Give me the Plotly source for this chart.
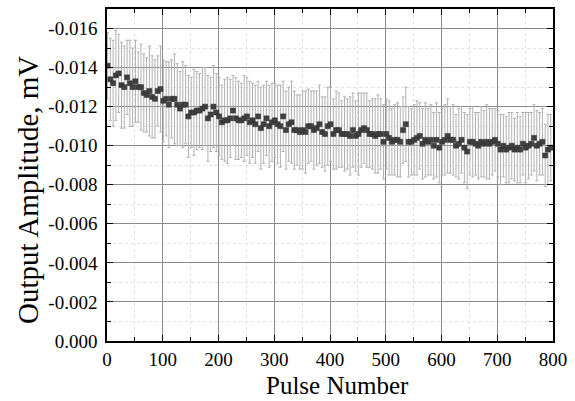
import plotly.graph_objects as go

pulse = [1 + 5 * i for i in range(160)]

amp_000 = [-0.0141, -0.0134, -0.0132, -0.0136, -0.0137, -0.0131, -0.0130, -0.0135, -0.0132, -0.0130,
           -0.0133, -0.0130, -0.0130, -0.0127, -0.0126, -0.0128, -0.0125, -0.0124, -0.0128, -0.0129]
amp_100 = [-0.0123, -0.0124, -0.0121, -0.0124, -0.0124, -0.0121, -0.0119, -0.0121, -0.0121, -0.0115,
           -0.0117, -0.0117, -0.0118, -0.0118, -0.0119, -0.0120, -0.0114, -0.0116, -0.0120, -0.0117]
amp_200 = [-0.0115, -0.0112, -0.0113, -0.0113, -0.0114, -0.0118, -0.0114, -0.0113, -0.0113, -0.0114,
           -0.0115, -0.0112, -0.0113, -0.0111, -0.0115, -0.0109, -0.0111, -0.0114, -0.0110, -0.0112]
amp_300 = [-0.0113, -0.0111, -0.0110, -0.0115, -0.0108, -0.0111, -0.0112, -0.0108, -0.0108, -0.0107,
           -0.0108, -0.0107, -0.0110, -0.0110, -0.0108, -0.0109, -0.0111, -0.0107, -0.0106, -0.0110]
amp_400 = [-0.0111, -0.0106, -0.0108, -0.0108, -0.0106, -0.0106, -0.0106, -0.0105, -0.0108, -0.0105,
           -0.0106, -0.0108, -0.0109, -0.0108, -0.0106, -0.0106, -0.0105, -0.0106, -0.0106, -0.0102]
amp_500 = [-0.0106, -0.0104, -0.0102, -0.0103, -0.0103, -0.0102, -0.0108, -0.0111, -0.0102, -0.0102,
           -0.0103, -0.0104, -0.0105, -0.0101, -0.0103, -0.0102, -0.0103, -0.0100, -0.0103, -0.0099]
amp_600 = [-0.0102, -0.0103, -0.0105, -0.0103, -0.0103, -0.0100, -0.0101, -0.0103, -0.0099, -0.0097,
           -0.0102, -0.0102, -0.0101, -0.0100, -0.0102, -0.0101, -0.0102, -0.0101, -0.0102, -0.0103]
amp_700 = [-0.0101, -0.0098, -0.0100, -0.0098, -0.0099, -0.0100, -0.0098, -0.0099, -0.0098, -0.0101,
           -0.0099, -0.0100, -0.0101, -0.0104, -0.0100, -0.0101, -0.0102, -0.0095, -0.0098, -0.0099]

err_000 = [0.0017, 0.0021, 0.0022, 0.0023, 0.0020, 0.0022, 0.0021, 0.0019, 0.0022, 0.0020,
           0.0021, 0.0018, 0.0022, 0.0020, 0.0019, 0.0023, 0.0021, 0.0020, 0.0018, 0.0022]
err_100 = [0.0021, 0.0019, 0.0022, 0.0020, 0.0023, 0.0021, 0.0019, 0.0022, 0.0020, 0.0021,
           0.0018, 0.0022, 0.0020, 0.0019, 0.0021, 0.0020, 0.0022, 0.0019, 0.0021, 0.0020]
err_200 = [0.0020, 0.0019, 0.0021, 0.0022, 0.0020, 0.0018, 0.0021, 0.0020, 0.0019, 0.0022,
           0.0020, 0.0021, 0.0019, 0.0020, 0.0018, 0.0021, 0.0020, 0.0019, 0.0021, 0.0020]
err_300 = [0.0019, 0.0020, 0.0021, 0.0018, 0.0020, 0.0019, 0.0021, 0.0020, 0.0018, 0.0019,
           0.0020, 0.0021, 0.0019, 0.0018, 0.0020, 0.0019, 0.0020, 0.0018, 0.0019, 0.0020]
err_400 = [0.0019, 0.0018, 0.0020, 0.0019, 0.0017, 0.0019, 0.0018, 0.0020, 0.0019, 0.0018,
           0.0021, 0.0019, 0.0018, 0.0019, 0.0017, 0.0018, 0.0019, 0.0020, 0.0018, 0.0019]
err_500 = [0.0018, 0.0019, 0.0017, 0.0018, 0.0019, 0.0018, 0.0017, 0.0019, 0.0018, 0.0017,
           0.0018, 0.0019, 0.0017, 0.0018, 0.0019, 0.0017, 0.0018, 0.0017, 0.0019, 0.0018]
err_600 = [0.0017, 0.0018, 0.0019, 0.0017, 0.0018, 0.0016, 0.0018, 0.0017, 0.0018, 0.0019,
           0.0017, 0.0018, 0.0016, 0.0017, 0.0018, 0.0017, 0.0019, 0.0018, 0.0017, 0.0016]
err_700 = [0.0017, 0.0018, 0.0016, 0.0017, 0.0018, 0.0017, 0.0016, 0.0018, 0.0017, 0.0016,
           0.0018, 0.0017, 0.0016, 0.0017, 0.0018, 0.0016, 0.0017, 0.0016, 0.0018, 0.0017]

amplitude = amp_000 + amp_100 + amp_200 + amp_300 + amp_400 + amp_500 + amp_600 + amp_700
error = err_000 + err_100 + err_200 + err_300 + err_400 + err_500 + err_600 + err_700

x_ticks = [0, 100, 200, 300, 400, 500, 600, 700, 800]
x_ticktext = ["0", "100", "200", "300", "400", "500", "600", "700", "800"]
y_ticks = [0.0, -0.002, -0.004, -0.006, -0.008, -0.010, -0.012, -0.014, -0.016]
y_ticktext = ["0.000", "-0.002", "-0.004", "-0.006", "-0.008", "-0.010", "-0.012", "-0.014", "-0.016"]

FONT = "Liberation Serif, Times New Roman, serif"

fig = go.Figure()
fig.add_trace(go.Scatter(
    x=pulse, y=amplitude, mode="markers",
    marker=dict(symbol="square", size=5, color="#404040", line=dict(color="#2a2a2a", width=0.5)),
    error_y=dict(type="data", array=error, visible=True, color="#b0b0b0", thickness=1, width=1.5),
    showlegend=False,
))

axis_common = dict(
    showline=True, linecolor="black", linewidth=1.5, mirror="allticks",
    ticks="inside", ticklen=6, tickwidth=1.2, tickcolor="black",
    showgrid=True, gridcolor="#8a8a8a", gridwidth=1,
    zeroline=False, automargin=False,
    tickfont=dict(family=FONT, size=19, color="black"),
)

fig.update_xaxes(
    range=[0, 800], tickvals=x_ticks, ticktext=x_ticktext,
    minor=dict(dtick=50, tick0=0, ticks="inside", ticklen=4, tickcolor="black",
               showgrid=True, gridcolor="#e2e2e2", griddash="dot", gridwidth=1),
    **axis_common,
)
fig.update_yaxes(
    range=[0, -0.017], tickvals=y_ticks, ticktext=y_ticktext, ticklabelstandoff=4,
    minor=dict(dtick=0.001, tick0=0, ticks="inside", ticklen=4, tickcolor="black",
               showgrid=True, gridcolor="#e2e2e2", griddash="dot", gridwidth=1),
    **axis_common,
)

fig.add_annotation(
    text="Pulse Number", xref="paper", yref="paper", x=(337 - 107) / 446, y=-(385 - 341) / 332,
    showarrow=False, xanchor="center", yanchor="middle",
    font=dict(family=FONT, size=25, color="black"),
)
fig.add_annotation(
    text="Output Amplitude, mV", xref="paper", yref="paper", x=-(107 - 28) / 446, y=(341 - 190) / 332,
    showarrow=False, xanchor="center", yanchor="middle", textangle=-90,
    font=dict(family=FONT, size=29, color="black"),
)

fig.update_layout(
    width=575, height=401,
    margin=dict(l=107, r=22, t=9, b=60),
    paper_bgcolor="white", plot_bgcolor="white",
    font=dict(family=FONT, color="black"),
)

fig.write_html("out.html", post_script="document.body.style.margin='0';",
               config={"displayModeBar": False})
